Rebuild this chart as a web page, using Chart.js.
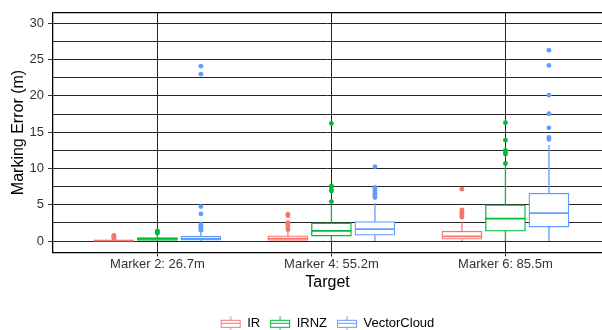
<!DOCTYPE html>
<html>
<head>
<meta charset="utf-8">
<script src="https://cdn.jsdelivr.net/npm/chart.js@4.4.1/dist/chart.umd.min.js"></script>
<style>
html,body{margin:0;padding:0;background:#fff;overflow:hidden;}
#wrap{width:602px;height:330px;position:relative;}
</style>
</head>
<body>
<div id="wrap"><canvas id="c" width="602" height="330"></canvas></div>
<script>
// ---------- data ----------
const categories = ['Marker 2: 26.7m', 'Marker 4: 55.2m', 'Marker 6: 85.5m'];
const seriesNames = ['IR', 'IRNZ', 'VectorCloud'];

// five-number summaries per category: [lower whisker, Q1, median, Q3, upper whisker]
const irBoxes   = [[0, 0.02, 0.06, 0.15, 0.35], [0, 0.08, 0.35, 0.73, 1.4], [0, 0.27, 0.64, 1.37, 2.6]];
const irnzBoxes = [[0, 0.10, 0.30, 0.50, 0.95], [0, 0.69, 1.42, 2.50, 5.0], [0, 1.37, 3.10, 5.00, 10.4]];
const vcBoxes   = [[0, 0.14, 0.35, 0.69, 1.30], [0, 0.82, 1.65, 2.70, 5.2], [0, 1.93, 3.85, 6.60, 13.25]];

// outliers per category
const irOutliers   = [[0.4, 0.5, 0.6, 0.7, 0.8], [1.6, 1.85, 2.1, 2.35, 2.55, 3.5, 3.7], [3.3, 3.5, 3.7, 3.9, 4.1, 4.3, 7.15]];
const irnzOutliers = [[1.1, 1.2, 1.3, 1.4], [5.45, 6.9, 7.05, 7.45, 7.6, 16.2], [10.7, 12.0, 12.2, 12.5, 13.9, 16.3]];
const vcOutliers   = [[1.5, 1.7, 1.9, 2.1, 2.3, 3.75, 4.75, 23.0, 24.1], [6.0, 6.3, 6.6, 6.9, 7.2, 7.4, 10.25], [14.0, 14.3, 15.6, 17.56, 20.1, 24.2, 26.3]];

const yMajorTicks = [0, 5, 10, 15, 20, 25, 30];
const yMinorTicks = [2.5, 7.5, 12.5, 17.5, 22.5, 27.5];
const yLimits = [-1.57, 31.49];
const xLimits = [0.4, 3.555];   // visible part of the 0.4 – 3.6 discrete range

// ---------- styles ----------
const seriesColors = ['#F8766D', '#00BA38', '#619CFF'];
const dodge = [-0.25, 0, 0.25];
const boxHalf = 0.115;       // half box width in x units
const lineW = 1.3;
const FONT = "'Liberation Sans', Arial, Helvetica, sans-serif";

const allBoxes = [irBoxes, irnzBoxes, vcBoxes];
const allOutliers = [irOutliers, irnzOutliers, vcOutliers];

function makeKey(color) {
  const c = document.createElement('canvas');
  c.width = 22; c.height = 15;
  const g = c.getContext('2d');
  g.strokeStyle = color; g.lineWidth = 1;
  g.strokeRect(1.5, 4.5, 19, 7);
  g.beginPath();
  g.moveTo(1.5, 7.5); g.lineTo(20.5, 7.5);
  g.moveTo(11, 0.5); g.lineTo(11, 4.5);
  g.moveTo(11, 11.5); g.lineTo(11, 14.5);
  g.stroke();
  return c;
}
const keys = seriesColors.map(makeKey);

const datasets = [];
seriesNames.forEach((name, s) => {
  const col = seriesColors[s];
  const boxes = allBoxes[s];
  // boxes
  datasets.push({
    type: 'bar', label: name,
    data: boxes.map((b, i) => ({x: i + 1 + dodge[s], y: [b[1], b[3]]})),
    backgroundColor: '#ffffff', borderColor: col, borderWidth: lineW,
    borderSkipped: false, barThickness: 40, grouped: false, order: 3
  });
  // whiskers
  const wh = [];
  boxes.forEach((b, i) => {
    const x = i + 1 + dodge[s];
    wh.push({x, y: b[0]}, {x, y: b[1]}, {x, y: null}, {x, y: b[3]}, {x, y: b[4]}, {x, y: null});
  });
  datasets.push({
    type: 'line', label: name + ' whisker', data: wh,
    borderColor: col, borderWidth: lineW, pointRadius: 0, pointHoverRadius: 0, fill: false, spanGaps: false, order: 4
  });
  // medians
  const md = [];
  boxes.forEach((b, i) => {
    const x = i + 1 + dodge[s];
    md.push({x: x - boxHalf, y: b[2]}, {x: x + boxHalf, y: b[2]}, {x, y: null});
  });
  datasets.push({
    type: 'line', label: name + ' median', data: md,
    borderColor: col, borderWidth: lineW + 0.5, pointRadius: 0, pointHoverRadius: 0, fill: false, spanGaps: false, order: 2
  });
  // outliers
  const pts = [];
  allOutliers[s].forEach((arr, i) => arr.forEach(v => pts.push({x: i + 1 + dodge[s], y: v})));
  datasets.push({
    type: 'scatter', label: name + ' outliers', data: pts,
    backgroundColor: col, borderColor: col, borderWidth: 0, pointRadius: 2.4, order: 1
  });
});

const yTickValues = yMajorTicks.concat(yMinorTicks).sort((a, b) => a - b).concat([yLimits[1]]);

new Chart(document.getElementById('c'), {
  type: 'bar',
  data: {datasets},
  options: {
    responsive: false,
    devicePixelRatio: 1,
    animation: false,
    events: [],
    layout: {autoPadding: false, padding: {left: 0, right: 0, top: 12.5, bottom: -9.8}},
    plugins: {
      tooltip: {enabled: false},
      legend: {
        position: 'bottom',
        fullSize: false,
        labels: {
          usePointStyle: true, pointStyleWidth: 20, padding: 10,
          color: '#000', font: {family: FONT, size: 13},
          generateLabels: () => seriesNames.map((n, i) => ({
            text: n, pointStyle: keys[i], fillStyle: seriesColors[i], strokeStyle: seriesColors[i],
            lineWidth: 0, hidden: false, datasetIndex: i, fontColor: '#000'
          }))
        }
      }
    },
    scales: {
      x: {
        type: 'linear', min: xLimits[0], max: xLimits[1], offset: false,
        afterBuildTicks: (ax) => { ax.ticks = categories.map((c, i) => ({value: i + 1})); },
        afterFit: (ax) => { ax.height = 54.3; },
        ticks: {
          autoSkip: false, maxRotation: 0, padding: 0,
          color: '#333', font: {family: FONT, size: 13},
          callback: (v) => categories[Math.round(v) - 1]
        },
        grid: {offset: false, color: '#262626', lineWidth: 1, tickLength: 4, tickColor: '#333', tickWidth: 1},
        border: {display: true, color: '#000', width: 1.3},
        title: {display: true, text: 'Target', color: '#000', font: {family: FONT, size: 16}, padding: {top: 0, bottom: 15}}
      },
      y: {
        type: 'linear', min: yLimits[0], max: yLimits[1],
        afterBuildTicks: (ax) => { ax.ticks = yTickValues.map(v => ({value: v})); },
        afterFit: (ax) => { ax.width = 53; },
        ticks: {
          autoSkip: false, padding: 4,
          color: '#333', font: {family: FONT, size: 13},
          callback: (v) => yMajorTicks.includes(v) ? String(v) : ''
        },
        grid: {
          color: (ctx) => ctx.tick && ctx.tick.value === yLimits[1] ? '#000' : '#262626',
          lineWidth: (ctx) => ctx.tick && ctx.tick.value === yLimits[1] ? 1.3 : 1,
          tickLength: 5,
          tickColor: (ctx) => ctx.tick && yMajorTicks.includes(ctx.tick.value) ? '#333' : 'rgba(0,0,0,0)',
          tickWidth: 1
        },
        border: {display: true, color: '#000', width: 1.3},
        title: {display: true, text: 'Marking Error (m)', color: '#000', font: {family: FONT, size: 16}, padding: {top: 9, bottom: 0}}
      }
    }
  }
});
</script>
</body>
</html>
